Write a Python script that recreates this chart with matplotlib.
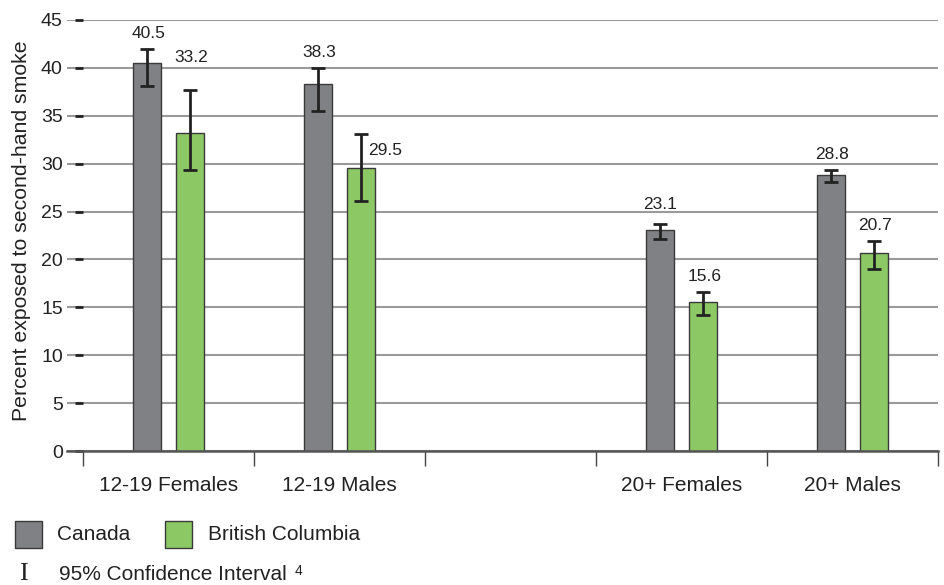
import numpy as np
import matplotlib
matplotlib.use("Agg")
import matplotlib.pyplot as plt
from matplotlib.patches import Rectangle

plt.rcParams['font.family'] = ['Liberation Sans', 'DejaVu Sans']

# data (empty slot between age groups)
categories = ["12-19 Females", "12-19 Males", "", "20+ Females", "20+ Males"]
canada = [40.5, 38.3, np.nan, 23.1, 28.8]
canada_lo = [38.15, 35.5, np.nan, 22.1, 28.05]
canada_hi = [41.95, 40.0, np.nan, 23.7, 29.3]
bc = [33.2, 29.5, np.nan, 15.6, 20.7]
bc_lo = [29.3, 26.1, np.nan, 14.2, 19.0]
bc_hi = [37.7, 33.1, np.nan, 16.6, 21.9]
yticks = list(range(0, 50, 5))

grey = '#808184'
green = '#8cc864'
dark = '#222222'

W, H = 944, 585
fig = plt.figure(figsize=(W / 100, H / 100), dpi=100)
ax = fig.add_axes([67 / W, 1 - 451 / H, (938 - 67) / W, (451 - 20) / H])

x = np.arange(len(categories))
off = 0.126
bw = 0.164

ax.bar(x - off, canada, bw, color=grey, edgecolor='#3a3a3a', linewidth=1, zorder=3)
ax.bar(x + off, bc, bw, color=green, edgecolor='#3a3a3a', linewidth=1, zorder=3)

c = np.array(canada); b = np.array(bc)
ax.errorbar(x - off, c, yerr=[c - np.array(canada_lo), np.array(canada_hi) - c],
            fmt='none', ecolor=dark, elinewidth=2, capsize=4.8, capthick=2, zorder=4)
ax.errorbar(x + off, b, yerr=[b - np.array(bc_lo), np.array(bc_hi) - b],
            fmt='none', ecolor=dark, elinewidth=2, capsize=4.8, capthick=2, zorder=4)

# value labels (offsets in points from the top of the CI)
canada_off = [(1, 6), (1, 6), None, (0, 9), (1, 6)]
bc_off = [(1, 18), (5, -12), None, (1, 6), (1, 6)]
for i in range(len(categories)):
    if np.isnan(canada[i]):
        continue
    ax.annotate(f"{canada[i]:.1f}", (x[i] - off, canada_hi[i]), xytext=canada_off[i],
                textcoords='offset points', ha='center', va='bottom',
                fontsize=12.5, color=dark)
    if i == 1:
        ax.annotate(f"{bc[i]:.1f}", (x[i] + off, bc_hi[i]), xytext=bc_off[i],
                    textcoords='offset points', ha='left', va='center',
                    fontsize=12.5, color=dark)
    else:
        ax.annotate(f"{bc[i]:.1f}", (x[i] + off, bc_hi[i]), xytext=bc_off[i],
                    textcoords='offset points', ha='center', va='bottom',
                    fontsize=12.5, color=dark)

ax.set_xlim(-0.5 - 16 / 171, len(categories) - 0.5)
ax.set_ylim(0, 45)
ax.set_yticks(yticks)
ax.yaxis.grid(True, color='#9a9a9a', linewidth=1.5, zorder=0)
ax.set_axisbelow(True)

for s in ['top', 'right']:
    ax.spines[s].set_visible(False)
ax.spines['left'].set_position(('data', -0.5))
ax.spines['left'].set_visible(False)
ax.spines['bottom'].set_color('#555555')
ax.spines['bottom'].set_linewidth(1.8)
ax.spines['bottom'].set_zorder(5)

ax.tick_params(axis='y', direction='out', length=6, width=2, color=dark,
               labelsize=14, labelcolor=dark, pad=8.5)

ax.set_xticks(x)
ax.set_xticklabels(categories, fontsize=15, color=dark)
ax.tick_params(axis='x', which='major', length=0, pad=18)
ax.set_xticks(np.arange(-0.5, len(categories), 1), minor=True)
ax.tick_params(axis='x', which='minor', direction='out', length=11, width=1, color='#444444')

fig.text(22 / W, 1 - 231 / H, "Percent exposed to second-hand smoke", rotation=90,
         fontsize=15.3, color=dark, ha='center', va='center')

# legend
def fx(px):
    return px / W

def fy(py):
    return 1 - py / H

fig.patches.append(Rectangle((fx(15), fy(548)), 27 / W, 27 / H, transform=fig.transFigure,
                             facecolor=grey, edgecolor='#3a3a3a', linewidth=1))
fig.text(fx(57), fy(535), "Canada", fontsize=15, color=dark, va='center')
fig.patches.append(Rectangle((fx(165), fy(548)), 27 / W, 27 / H, transform=fig.transFigure,
                             facecolor=green, edgecolor='#3a3a3a', linewidth=1))
fig.text(fx(208), fy(535), "British Columbia", fontsize=15, color=dark, va='center')
fig.text(fx(23), fy(574), "I", fontsize=19, family='Liberation Serif', color=dark,
         ha='center', va='center')
fig.text(fx(59), fy(575), "95% Confidence Interval", fontsize=15, color=dark, va='center')
fig.text(fx(295), fy(571), "4", fontsize=10, color=dark, va='center')

fig.savefig("out.png", dpi=100)
